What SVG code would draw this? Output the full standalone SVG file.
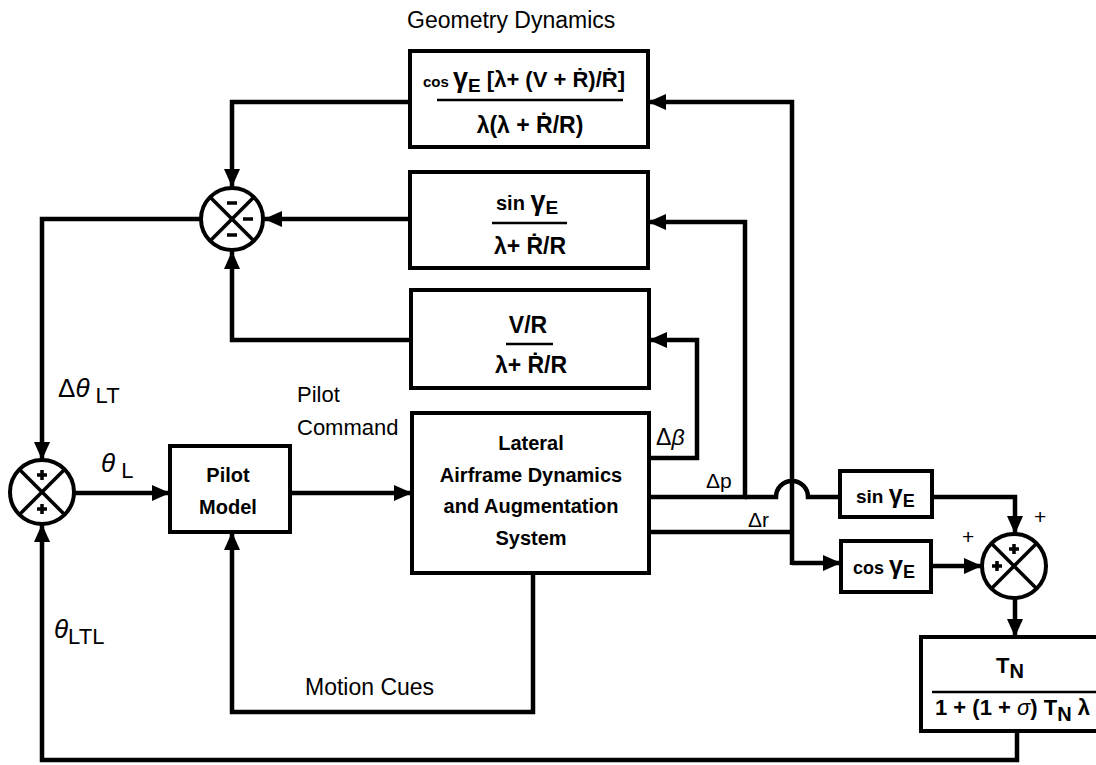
<svg xmlns="http://www.w3.org/2000/svg" width="1096" height="765" viewBox="0 0 1096 765">
<style>
.ln{fill:none;stroke:#000;stroke-width:4.5;stroke-linejoin:miter}
.bx{fill:#fff;stroke:#000;stroke-width:4}
.fr{stroke:#000;stroke-width:2.5}
.sj{fill:#fff;stroke:#000;stroke-width:4}
.x{stroke:#000;stroke-width:3.5}
.t{font-family:"Liberation Sans","DejaVu Sans",sans-serif;font-weight:bold;fill:#000}
.l{font-family:"Liberation Sans","DejaVu Sans",sans-serif;font-weight:normal;fill:#000}
.c{text-anchor:middle}
</style>
<defs>
<marker id="ah" markerUnits="userSpaceOnUse" markerWidth="20" markerHeight="18" refX="18" refY="8" orient="auto">
<path d="M0,0 L18,8 L0,16 z" fill="#000"/>
</marker>
</defs>
<rect width="1096" height="765" fill="#fff"/>

<text class="l" x="407" y="28" font-size="23">Geometry Dynamics</text>

<g id="connectors">
<path class="ln" d="M410,102 H232 V187" marker-end="url(#ah)"/>
<path class="ln" d="M410,219 H264" marker-end="url(#ah)"/>
<path class="ln" d="M411,340 H232 V251" marker-end="url(#ah)"/>
<path class="ln" d="M200,219 H42 V460" marker-end="url(#ah)"/>
<path class="ln" d="M74,493 H170" marker-end="url(#ah)"/>
<path class="ln" d="M290,493 H412" marker-end="url(#ah)"/>
<path class="ln" d="M649,458 H697 V340 H649" marker-end="url(#ah)"/>
<path class="ln" d="M649,497 H745 V222 H648" marker-end="url(#ah)"/>
<path class="ln" d="M745,497 H776 A16,16 0 0 1 808,497 H840"/>
<path class="ln" d="M649,532 H792"/>
<path class="ln" d="M792,565 V102 H648" marker-end="url(#ah)"/>
<path class="ln" d="M792,563 H841" marker-end="url(#ah)"/>
<path class="ln" d="M932,497 H1015 V534" marker-end="url(#ah)"/>
<path class="ln" d="M931,566 H982" marker-end="url(#ah)"/>
<path class="ln" d="M1015,598 V637" marker-end="url(#ah)"/>
<path class="ln" d="M1017,731 V760 H42 V524" marker-end="url(#ah)"/>
<path class="ln" d="M533,573 V712 H232 V532" marker-end="url(#ah)"/>
</g>

<g id="geom-cos">
<rect class="bx" x="410" y="51" width="238" height="96"/>
<text class="t" x="423" y="87" font-size="22"><tspan font-size="15">cos </tspan><tspan font-size="27">γ</tspan><tspan font-size="19" dy="5">E</tspan><tspan dy="-5"> [λ+ (V + Ṙ)/Ṙ]</tspan></text>
<line class="fr" x1="437" y1="100" x2="623" y2="100"/>
<text class="t c" x="530" y="133" font-size="23">λ(λ + Ṙ/R)</text>
</g>

<g id="geom-sin">
<rect class="bx" x="410" y="172" width="238" height="96"/>
<text class="t" x="496" y="210" font-size="20">sin <tspan font-size="27">γ</tspan><tspan font-size="19" dy="4">E</tspan></text>
<line class="fr" x1="492" y1="223" x2="567" y2="223"/>
<text class="t c" x="530" y="254" font-size="23">λ+ Ṙ/R</text>
</g>

<g id="geom-vr">
<rect class="bx" x="411" y="290" width="238" height="98"/>
<text class="t c" x="528" y="333" font-size="23">V/R</text>
<line class="fr" x1="506" y1="344" x2="553" y2="344"/>
<text class="t c" x="531" y="373" font-size="23">λ+ Ṙ/R</text>
</g>

<g id="sum-top">
<circle class="sj" cx="232" cy="219" r="31"/>
<line class="x" x1="210" y1="197" x2="254" y2="241"/>
<line class="x" x1="254" y1="197" x2="210" y2="241"/>
<line class="x" x1="227" y1="203" x2="237" y2="203"/>
<line class="x" x1="243" y1="219" x2="253" y2="219"/>
<line class="x" x1="227" y1="235" x2="237" y2="235"/>
</g>

<g id="sum-left">
<circle class="sj" cx="42" cy="492" r="32"/>
<line class="x" x1="19" y1="469" x2="65" y2="515"/>
<line class="x" x1="65" y1="469" x2="19" y2="515"/>
<path class="x" d="M37,475 H47 M42,470 V480 M37,509 H47 M42,504 V514"/>
</g>

<g id="labels">
<text class="l" x="58" y="397" font-size="26">Δ<tspan font-style="italic">θ</tspan><tspan font-size="22" dy="6"> LT</tspan></text>
<text class="l" x="101" y="472" font-size="26"><tspan font-style="italic">θ</tspan><tspan font-size="22" dy="6"> L</tspan></text>
<text class="l" x="54" y="638" font-size="26"><tspan font-style="italic">θ</tspan><tspan font-size="22" dy="6">LTL</tspan></text>
<text class="l" x="297" y="402" font-size="22">Pilot</text>
<text class="l" x="297" y="435" font-size="22">Command</text>
<text class="l" x="656" y="445" font-size="23">Δ<tspan font-style="italic">β</tspan></text>
<text class="l" x="706" y="488" font-size="21">Δp</text>
<text class="l" x="748" y="527" font-size="21">Δr</text>
<text class="l" x="305" y="695" font-size="23">Motion Cues</text>
<text class="l" x="1034" y="524" font-size="21">+</text>
<text class="l" x="962" y="544" font-size="21">+</text>
</g>

<g id="pilot-model">
<rect class="bx" x="170" y="446" width="120" height="86"/>
<text class="t c" x="228" y="482" font-size="20">Pilot</text>
<text class="t c" x="228" y="514" font-size="20">Model</text>
</g>

<g id="lateral">
<rect class="bx" x="412" y="413" width="237" height="160"/>
<text class="t c" x="531" y="450" font-size="20">Lateral</text>
<text class="t c" x="531" y="482" font-size="20">Airframe Dynamics</text>
<text class="t c" x="531" y="513" font-size="20">and Augmentation</text>
<text class="t c" x="531" y="545" font-size="20">System</text>
</g>

<g id="sin-gamma">
<rect class="bx" x="840" y="471" width="92" height="46"/>
<text class="t" x="856" y="503" font-size="19">sin <tspan font-size="25">γ</tspan><tspan font-size="18" dy="4">E</tspan></text>
</g>

<g id="cos-gamma">
<rect class="bx" x="841" y="541" width="90" height="51"/>
<text class="t" x="853" y="574" font-size="18">cos <tspan font-size="25">γ</tspan><tspan font-size="18" dy="4">E</tspan></text>
</g>

<g id="sum-right">
<circle class="sj" cx="1014" cy="566" r="32"/>
<line class="x" x1="991" y1="543" x2="1037" y2="589"/>
<line class="x" x1="1037" y1="543" x2="991" y2="589"/>
<path class="x" d="M1009,549 H1019 M1014,544 V554 M992,566 H1002 M997,561 V571"/>
</g>

<g id="tn">
<rect class="bx" x="921" y="637" width="200" height="94"/>
<text class="t" x="996" y="673" font-size="22">T<tspan font-size="20" dy="5">N</tspan></text>
<line class="fr" x1="932" y1="692" x2="1100" y2="692"/>
<text class="t" x="935" y="715" font-size="22">1 + (1 + <tspan font-style="italic" font-weight="normal">σ</tspan>) T<tspan font-size="20" dy="6">N</tspan><tspan dy="-6"> λ</tspan></text>
</g>
</svg>
